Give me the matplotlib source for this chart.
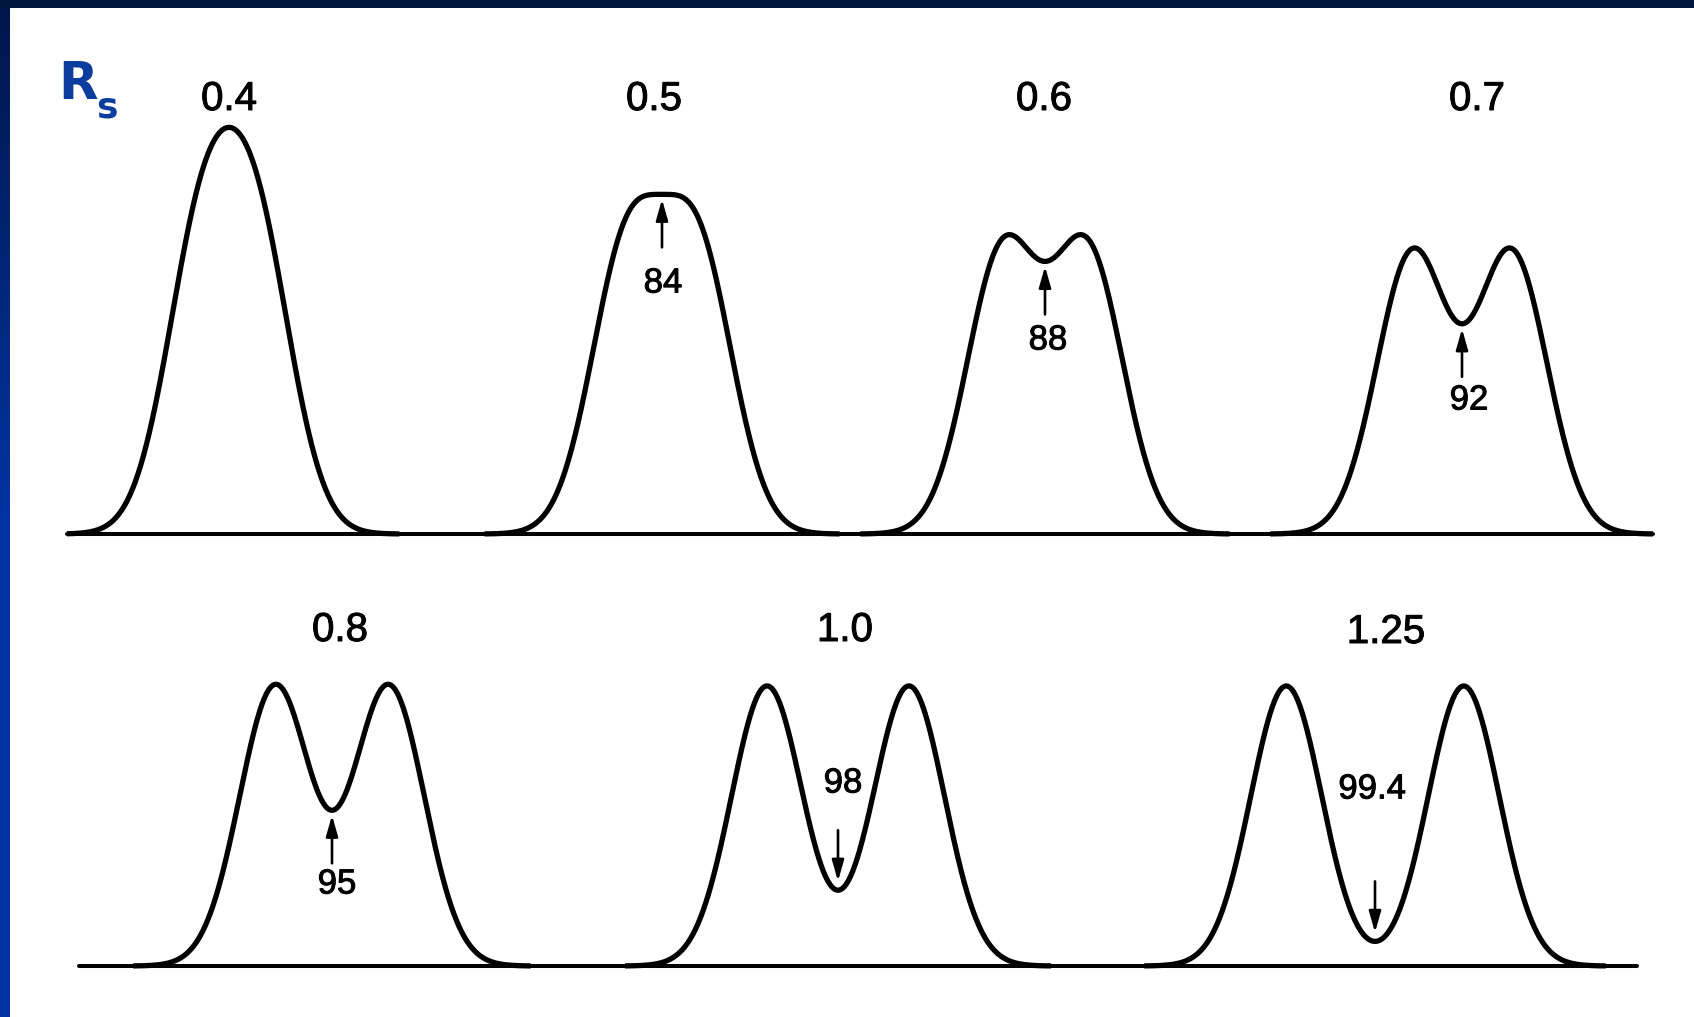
import numpy as np
import matplotlib
matplotlib.use("Agg")
import matplotlib.pyplot as plt
import matplotlib.patheffects as pe
from matplotlib.patches import Rectangle
from matplotlib.colors import LinearSegmentedColormap

# resolution values and the purity (%) read at the valley
rs_values = [0.4, 0.5, 0.6, 0.7, 0.8, 1.0, 1.25]
rs_labels = ["0.4", "0.5", "0.6", "0.7", "0.8", "1.0", "1.25"]
purity = [None, "84", "88", "92", "95", "98", "99.4"]

# layout (pixel space of the picture)
W, H = 1694, 1017
row_of = [0, 0, 0, 0, 1, 1, 1]
row_base = [534, 966]
row_span = [(67, 1653), (79, 1637)]
centers = [229, 662, 1045, 1462, 332, 838, 1375]
rs_label_xy = [(229, 99), (654, 99), (1044, 99), (1477, 99),
               (340, 630), (845, 630), (1386, 632)]
purity_xy = [None, (663, 283), (1048, 340), (1469, 400),
             (337, 884), (843, 783), (1372, 789)]
arrow_up = [None, True, True, True, True, False, False]
sigma = 35.5      # px, width of one gaussian peak
peak_h = 280      # px, height of one gaussian peak

LW = 3.8
bold_ink = [pe.withStroke(linewidth=0.7, foreground="black")]

fig = plt.figure(figsize=(W / 100, H / 100), dpi=100)
ax = fig.add_axes([0, 0, 1, 1])
ax.set_xlim(0, W)
ax.set_ylim(H, 0)
ax.axis("off")

# slide frame: dark bar on top, gradient bar on the left
grad = np.linspace(0, 1, 512).reshape(-1, 1)
cmap = LinearSegmentedColormap.from_list(
    "frame", [(0, "#00164a"), (0.5, "#0033a0"), (1, "#0033a0")])
ax.imshow(grad, cmap=cmap, extent=[0, 9.5, H, 0], aspect="auto", zorder=1)
ax.add_patch(Rectangle((0, 0), W, 8, color="#001540", lw=0, zorder=2))

# Rs label
ax.text(58, 99, "R", color="#0b3d9f", fontsize=37, fontweight="bold",
        family="DejaVu Sans", ha="left", va="baseline")
ax.text(96, 118, "s", color="#0b3d9f", fontsize=26, fontweight="bold",
        family="DejaVu Sans", ha="left", va="baseline")

# baselines
for r in range(2):
    ax.plot(row_span[r], [row_base[r], row_base[r]], color="black",
            lw=2.9, solid_capstyle="round", zorder=3)


def chrom(x, c, rs):
    d = 4 * sigma * rs
    g1 = np.exp(-0.5 * ((x - c + d / 2) / sigma) ** 2)
    g2 = np.exp(-0.5 * ((x - c - d / 2) / sigma) ** 2)
    return peak_h * (g1 + g2)


for i, rs in enumerate(rs_values):
    c = centers[i]
    r = row_of[i]
    base = row_base[r]
    half = 2 * sigma * rs + 4.0 * sigma
    x0 = max(c - half, row_span[r][0])
    x1 = min(c + half, row_span[r][1])
    x = np.linspace(x0, x1, 600)
    y = base - chrom(x, c, rs)
    ax.plot(x, y, color="black", lw=LW, solid_joinstyle="round",
            solid_capstyle="butt", zorder=4)

    lx, ly = rs_label_xy[i]
    ax.text(lx, ly, rs_labels[i], fontsize=29, family="Liberation Sans",
            ha="center", va="center", color="black", path_effects=bold_ink)

    if purity[i] is None:
        continue
    dip = base - chrom(np.array([c]), c, rs)[0]
    if arrow_up[i]:
        head, tail = dip + 5, dip + 53
    else:
        head, tail = dip - 9, dip - 60
    ax.annotate("", xy=(c, head), xytext=(c, tail),
                arrowprops=dict(arrowstyle="-|>,head_length=0.7,head_width=0.2",
                                mutation_scale=18, lw=1.9, color="black",
                                shrinkA=0, shrinkB=0), zorder=5)
    px, py = purity_xy[i]
    ax.text(px, py, purity[i], fontsize=25, family="Liberation Sans",
            ha="center", va="center", color="black", path_effects=bold_ink)

fig.savefig("out.png", dpi=100, facecolor="white")
